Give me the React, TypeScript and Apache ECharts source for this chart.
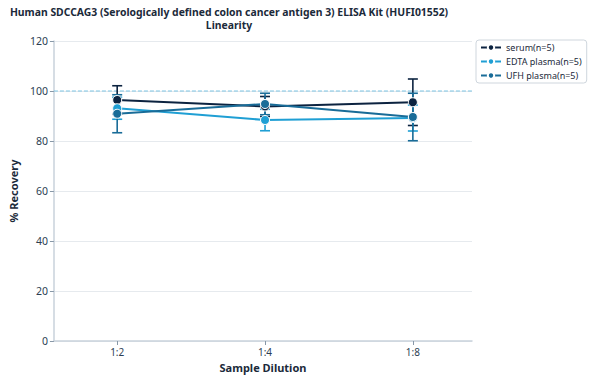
import React, { useEffect, useRef } from "react";
import * as echarts from "echarts";

const categories = ["1:2", "1:4", "1:8"];
const seriesNames = ["serum(n=5)", "EDTA plasma(n=5)", "UFH plasma(n=5)"];
const serumMean = [96.4, 93.8, 95.5];
const serumErr = [5.7, 4.0, 9.3];
const edtaMean = [93.1, 88.4, 89.2];
const edtaErr = [4.4, 4.3, 5.2];
const ufhMean = [90.9, 94.8, 89.6];
const ufhErr = [7.6, 4.3, 9.5];
const yTicks = [0, 20, 40, 60, 80, 100, 120];
const refLineValue = 100;
const titleLines = [
  "Human SDCCAG3 (Serologically defined colon cancer antigen 3) ELISA Kit (HUFI01552)",
  "Linearity",
];

const colors = ["#0c2340", "#1f9fd4", "#196c98"];
const FONT = "Noto Sans";

export default function App() {
  const ref = useRef<HTMLDivElement>(null);
  useEffect(() => {
    if (!ref.current) return;
    const chart = echarts.init(ref.current, null, { renderer: "svg" });
    const means = [serumMean, edtaMean, ufhMean];
    const errs = [serumErr, edtaErr, ufhErr];
    const xs = categories.map((_, i) => i + 1);

    const series: any[] = [];
    series.push({
      type: "custom",
      name: "reference",
      z: 1,
      silent: true,
      data: [[refLineValue]],
      renderItem: (params: any, api: any) => {
        const cs = params.coordSys;
        const p = api.coord([0.572, api.value(0)]);
        return {
          type: "line",
          shape: { x1: cs.x, y1: p[1], x2: cs.x + cs.width, y2: p[1] },
          style: { stroke: "#7cc4e2", lineWidth: 1, lineDash: [4, 2] },
        };
      },
    });
    means.forEach((m, si) => {
      series.push({
        type: "custom",
        name: seriesNames[si] + " error",
        z: 2,
        silent: true,
        data: xs.map((x, i) => [x, m[i] - errs[si][i], m[i] + errs[si][i]]),
        renderItem: (params: any, api: any) => {
          const x = api.value(0);
          const lo = api.coord([x, api.value(1)]);
          const hi = api.coord([x, api.value(2)]);
          const w = 5;
          const style = { stroke: colors[si], lineWidth: 1.6 };
          return {
            type: "group",
            children: [
              { type: "line", shape: { x1: lo[0], y1: lo[1], x2: hi[0], y2: hi[1] }, style },
              { type: "line", shape: { x1: lo[0] - w, y1: lo[1], x2: lo[0] + w, y2: lo[1] }, style },
              { type: "line", shape: { x1: hi[0] - w, y1: hi[1], x2: hi[0] + w, y2: hi[1] }, style },
            ],
          };
        },
      });
    });
    means.forEach((m, si) => {
      series.push({
        type: "line",
        name: seriesNames[si],
        z: 3,
        data: xs.map((x, i) => [x, m[i]]),
        symbol: "circle",
        symbolSize: 9,
        lineStyle: { width: 2, color: colors[si] },
        itemStyle: { color: colors[si], borderColor: "#ffffff", borderWidth: 1 },
      });
    });

    chart.setOption({
      animation: false,
      color: colors,
      textStyle: { fontFamily: FONT },
      graphic: titleLines.map((t, i) => ({
        type: "text",
        x: 229,
        y: 12 + i * 13,
        style: {
          text: t,
          fontFamily: FONT,
          fontSize: 10.4,
          fontWeight: "bold",
          fill: "#1b2a3a",
          align: "center",
          verticalAlign: "middle",
        },
      })),
      legend: {
        data: seriesNames,
        orient: "vertical",
        left: 476,
        top: 40,
        itemWidth: 20,
        itemHeight: 8,
        itemGap: 5,
        padding: [3, 5, 3, 4],
        borderColor: "#cfd6dd",
        borderWidth: 1,
        borderRadius: 3,
        textStyle: { fontFamily: FONT, fontSize: 9, color: "#1b2a3a" },
      },
      grid: { left: 42, right: 118, top: 41, bottom: 39 },
      xAxis: {
        type: "value",
        min: 0.572,
        max: 3.4,
        name: "Sample Dilution",
        nameLocation: "middle",
        nameGap: 20,
        nameTextStyle: { fontFamily: FONT, fontSize: 11, fontWeight: "bold", color: "#1b2a3a" },
        axisLine: { show: true, lineStyle: { color: "#c9d2db", width: 1.5 } },
        axisTick: { show: true, customValues: xs, length: 4, lineStyle: { color: "#8898a8" } },
        axisLabel: {
          customValues: xs,
          formatter: (v: number) => categories[Math.round(v) - 1] ?? "",
          fontFamily: FONT,
          fontSize: 10,
          color: "#2c3e52",
          margin: 6,
        },
        splitLine: { show: false },
      },
      yAxis: {
        type: "value",
        min: 0,
        max: 120,
        interval: 20,
        name: "% Recovery",
        nameLocation: "middle",
        nameGap: 30,
        nameTextStyle: { fontFamily: FONT, fontSize: 11, fontWeight: "bold", color: "#1b2a3a" },
        axisLine: { show: true, lineStyle: { color: "#c9d2db", width: 1.5 } },
        axisTick: { show: true, length: 4, lineStyle: { color: "#8898a8" } },
        axisLabel: {
          formatter: (v: number) => (yTicks.includes(v) ? String(v) : ""),
          fontFamily: FONT,
          fontSize: 10.5,
          color: "#2c3e52",
          margin: 6,
        },
        splitLine: { show: true, lineStyle: { color: "#e6eaee", width: 1 } },
      },
      series,
    });
    return () => chart.dispose();
  }, []);
  return <div ref={ref} style={{ width: 590, height: 380, position: "absolute", left: 0, top: 0 }} />;
}
